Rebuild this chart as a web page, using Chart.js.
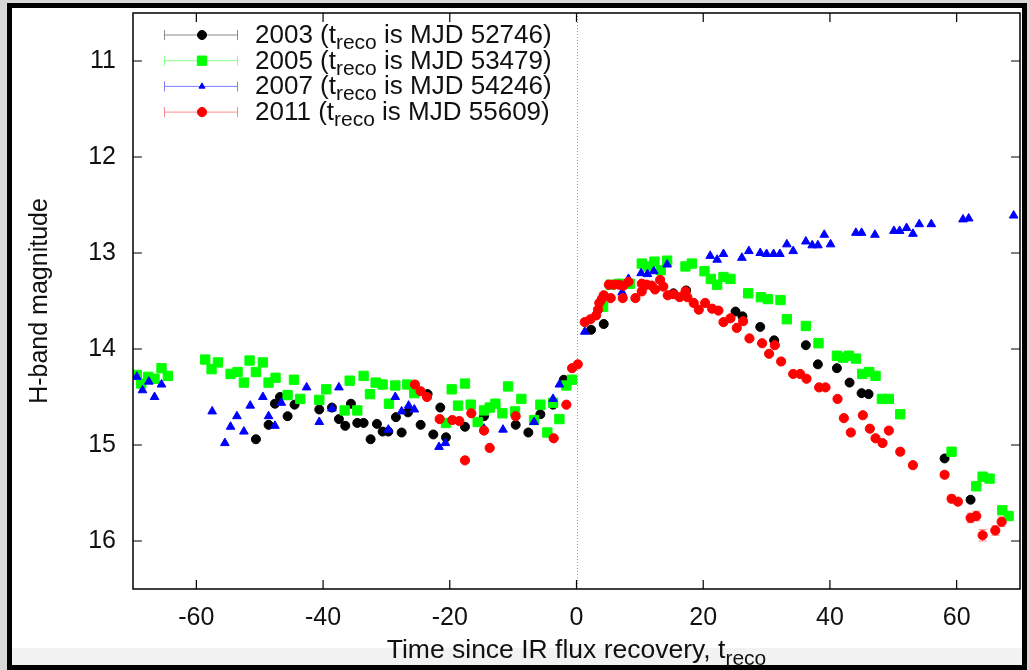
<!DOCTYPE html>
<html>
<head>
<meta charset="utf-8">
<script src="https://cdn.jsdelivr.net/npm/chart.js@4.4.0/dist/chart.umd.min.js"></script>
<style>
    html, body { margin: 0; padding: 0; }
    body { width: 1029px; height: 670px; background: #d8d8d8; position: relative; overflow: hidden; }
    #moldura { position: absolute; left: 7px; top: 3px; width: 1010px; height: 657px; border: 5px solid #000; background: #fff; }
    #faixa { position: absolute; left: 0; right: 0; bottom: 0; height: 17px; background: #f2f2f2; }
    #grafico { position: absolute; left: 0; top: 0; }
</style>
</head>
<body>
<div id="moldura"><div id="faixa"></div></div>
<canvas id="grafico" width="1029" height="670"></canvas>
<script>

//***********************
//Dados
//***********************
const ticks_x = [-60, -40, -20, 0, 20, 40, 60];
const ticks_y = [11, 12, 13, 14, 15, 16];

const anos = ['2003', '2005', '2007', '2011'];
const mjd_treco = ['52746', '53479', '54246', '55609'];

//[tempo desde t_reco, magnitude H]
const pontos_2003 = [
    [-50.6,14.94],[-48.6,14.79],[-47.6,14.57],[-46.8,14.50],[-45.6,14.70],[-44.5,14.58],
    [-40.6,14.63],[-38.6,14.61],[-37.5,14.73],[-36.5,14.80],[-35.6,14.57],[-34.6,14.77],
    [-33.6,14.77],[-32.5,14.94],[-31.5,14.78],[-30.6,14.86],[-29.7,14.86],[-28.5,14.71],
    [-27.6,14.87],[-26.6,14.66],[-24.6,14.79],[-23.5,14.47],[-22.6,14.89],[-21.5,14.61],
    [-20.6,14.92],[-17.6,14.81],[-14.6,14.70],[-9.6,14.79],[-7.6,14.87],[-5.7,14.68],
    [-3.7,14.58],[-2.0,14.32],[2.3,13.80],[4.3,13.74],[15.3,13.42],[17.3,13.39],
    [25.1,13.61],[26.2,13.66],[29.0,13.77],[31.2,13.91],[36.2,13.96],[38.1,14.16],
    [41.1,14.20],[43.1,14.35],[45.0,14.46],[46.1,14.47],[58.1,15.14],[62.2,15.57]
];

const pontos_2005 = [
    [-69.4,14.27],[-68.7,14.36],[-67.6,14.29],[-66.6,14.31],[-65.5,14.20],[-64.5,14.28],
    [-58.6,14.11],[-57.6,14.21],[-56.6,14.14],[-54.6,14.26],[-53.5,14.24],[-52.5,14.35],
    [-51.6,14.12],[-50.6,14.24],[-49.5,14.14],[-48.6,14.35],[-47.5,14.30],[-45.6,14.48],
    [-44.6,14.32],[-43.6,14.52],[-40.6,14.53],[-39.5,14.42],[-36.6,14.64],[-35.8,14.33],
    [-34.6,14.64],[-33.6,14.28],[-32.6,14.47],[-31.7,14.35],[-30.6,14.37],[-29.6,14.57],
    [-28.6,14.38],[-26.7,14.37],[-25.6,14.46],[-20.6,14.77],[-19.7,14.42],[-18.7,14.59],
    [-17.6,14.36],[-16.7,14.58],[-15.6,14.76],[-14.6,14.64],[-13.7,14.61],[-12.8,14.57],
    [-11.7,14.67],[-10.8,14.39],[-9.7,14.65],[-8.7,14.52],[-6.7,14.74],[-5.7,14.58],
    [-4.6,14.87],[-3.7,14.56],[-2.7,14.73],[-1.6,14.38],[-0.7,14.32],[4.2,13.56],
    [5.4,13.33],[6.8,13.32],[8.4,13.32],[10.3,13.11],[11.3,13.14],[12.3,13.09],
    [13.3,13.18],[14.3,13.08],[17.2,13.14],[18.2,13.11],[20.2,13.19],[21.2,13.27],
    [22.2,13.33],[23.2,13.25],[24.3,13.27],[27.1,13.42],[29.1,13.46],[30.2,13.48],
    [32.2,13.49],[33.2,13.69],[36.2,13.76],[38.2,13.94],[41.1,14.07],[42.1,14.09],
    [43.0,14.07],[44.1,14.10],[45.1,14.26],[46.2,14.24],[47.2,14.28],[48.2,14.52],
    [49.3,14.52],[51.1,14.68],[59.2,15.07],[63.1,15.43],[64.1,15.33],[65.2,15.35],
    [67.2,15.68],[68.2,15.74]
];

const pontos_2007 = [
    [-69.4,14.29],[-68.5,14.43],[-67.5,14.34],[-66.6,14.50],[-65.5,14.37],[-57.5,14.65],
    [-55.5,14.98],[-54.6,14.81],[-53.6,14.70],[-52.5,14.86],[-51.5,14.59],[-49.5,14.50],
    [-48.6,14.70],[-47.6,14.80],[-46.6,14.56],[-42.6,14.40],[-40.6,14.76],[-38.6,14.62],
    [-37.5,14.40],[-29.7,14.84],[-28.6,14.50],[-27.6,14.65],[-26.5,14.59],[-25.6,14.63],
    [-21.7,15.02],[-20.7,14.98],[-14.6,14.83],[-11.6,14.84],[-6.7,14.76],[-3.7,14.52],
    [-2.7,14.37],[1.3,13.82],[7.2,13.41],[8.2,13.27],[10.2,13.21],[11.2,13.22],
    [12.2,13.19],[14.3,13.12],[21.1,13.03],[22.2,13.07],[23.2,13.01],[26.1,13.05],
    [27.2,12.98],[29.0,13.00],[30.0,13.01],[31.1,13.01],[32.1,13.01],[33.2,12.91],
    [34.2,12.98],[36.2,12.88],[37.2,12.92],[38.1,12.92],[39.1,12.81],[40.1,12.91],
    [44.1,12.79],[45.0,12.79],[47.1,12.81],[50.1,12.77],[51.0,12.77],[52.1,12.74],
    [53.1,12.80],[54.1,12.70],[56.0,12.70],[61.0,12.65],[61.9,12.64],[69.0,12.61]
];

//[tempo, magnitude, erro]
const pontos_2011 = [
    [-25.5,14.37,0.02],[-24.6,14.44,0.02],[-23.6,14.50,0.02],[-21.6,14.73,0.02],[-19.6,14.74,0.02],
    [-18.5,14.75,0.02],[-17.6,15.16,0.02],[-16.6,14.67,0.02],[-14.6,14.85,0.02],[-13.7,15.03,0.02],
    [-9.6,14.70,0.02],[-3.6,14.93,0.02],[-1.6,14.58,0.02],[-0.7,14.20,0.02],[0.2,14.16,0.02],
    [1.3,13.72,0.02],[2.2,13.69,0.02],[3.1,13.65,0.02],[3.4,13.59,0.02],[3.6,13.52,0.02],
    [4.0,13.48,0.02],[4.3,13.44,0.02],[5.1,13.33,0.02],[5.4,13.47,0.02],[5.9,13.33,0.02],
    [6.7,13.33,0.02],[7.4,13.34,0.02],[7.3,13.47,0.02],[8.2,13.30,0.02],[9.3,13.47,0.02],
    [10.3,13.32,0.02],[10.3,13.40,0.02],[11.1,13.33,0.02],[11.9,13.34,0.02],[12.4,13.38,0.02],
    [13.2,13.28,0.02],[13.7,13.35,0.02],[14.4,13.44,0.02],[15.3,13.43,0.02],[16.3,13.46,0.02],
    [17.2,13.40,0.02],[17.5,13.46,0.02],[18.5,13.52,0.02],[19.3,13.59,0.02],[20.3,13.52,0.02],
    [21.4,13.58,0.02],[22.4,13.60,0.02],[23.2,13.72,0.02],[24.3,13.68,0.02],[25.3,13.78,0.02],
    [26.3,13.71,0.02],[27.3,13.89,0.02],[29.3,13.94,0.02],[30.4,14.05,0.02],[31.3,13.96,0.02],
    [32.3,14.13,0.02],[34.2,14.26,0.02],[35.3,14.26,0.02],[36.3,14.31,0.02],[38.3,14.40,0.02],
    [39.3,14.40,0.02],[41.2,14.52,0.02],[42.2,14.72,0.02],[43.3,14.87,0.02],[45.2,14.69,0.02],
    [46.3,14.83,0.02],[47.2,14.93,0.02],[48.3,14.98,0.02],[49.3,14.85,0.02],[51.1,15.07,0.03],
    [53.1,15.21,0.03],[58.1,15.31,0.03],[59.2,15.56,0.04],[60.2,15.59,0.03],[62.2,15.76,0.05],
    [63.1,15.74,0.05],[64.1,15.94,0.06],[66.1,15.89,0.05],[67.1,15.80,0.05]
];

const series = [pontos_2003, pontos_2005, pontos_2007, pontos_2011];


//***********************
//Estilos
//***********************
const fonte = '"Liberation Sans", Arial, Helvetica, sans-serif';
const cores = ['#000000', '#00ff00', '#0000ff', '#ff0000'];
const cores_barra = ['#8a8a8a', '#8cff8c', '#7f7fff', '#ff8a8a'];
const formas = ['circle', 'rect', 'triangle', 'circle'];
const raios = [4.5, 6.6, 5, 4.6];


//Desenha barras de erro, linha do zero, moldura, legenda e titulo do eixo x
const plugin_moldura = {

    id: 'moldura',

    beforeDatasetsDraw(chart) {
        const {ctx, chartArea: area, scales: {x}} = chart;
        const x0 = Math.round(x.getPixelForValue(0)) + 0.5;
        ctx.save();
        ctx.strokeStyle = '#9a9a9a';
        ctx.lineWidth = 1;
        ctx.setLineDash([1, 2]);
        ctx.beginPath();
        ctx.moveTo(x0, area.top);
        ctx.lineTo(x0, area.bottom);
        ctx.stroke();
        ctx.restore();
    },

    beforeDatasetDraw(chart, args) {
        const {ctx, scales: {x, y}} = chart;
        const dados = series[args.index];
        ctx.save();
        ctx.strokeStyle = cores_barra[args.index];
        ctx.lineWidth = 1;
        dados.forEach(p => {
            if (!p[2]) return;
            const px = x.getPixelForValue(p[0]);
            const y1 = y.getPixelForValue(p[1] - p[2]);
            const y2 = y.getPixelForValue(p[1] + p[2]);
            ctx.beginPath();
            ctx.moveTo(px, y1); ctx.lineTo(px, y2);
            ctx.moveTo(px - 4, y1); ctx.lineTo(px + 4, y1);
            ctx.moveTo(px - 4, y2); ctx.lineTo(px + 4, y2);
            ctx.stroke();
        });
        ctx.restore();
    },

    afterDraw(chart) {
        const {ctx, chartArea: area, scales: {x, y}} = chart;
        ctx.save();

        //moldura e ticks para dentro
        ctx.strokeStyle = '#000';
        ctx.lineWidth = 1.5;
        ctx.strokeRect(area.left, area.top, area.right - area.left, area.bottom - area.top);
        ctx.lineWidth = 1.2;
        ctx.beginPath();
        ticks_x.forEach(v => {
            const px = x.getPixelForValue(v);
            ctx.moveTo(px, area.bottom); ctx.lineTo(px, area.bottom - 9);
            ctx.moveTo(px, area.top); ctx.lineTo(px, area.top + 9);
        });
        ticks_y.forEach(v => {
            const py = y.getPixelForValue(v);
            ctx.moveTo(area.left, py); ctx.lineTo(area.left + 9, py);
            ctx.moveTo(area.right, py); ctx.lineTo(area.right - 9, py);
        });
        ctx.stroke();

        //legenda
        anos.forEach((ano, i) => {
            const cy = 35 + i * 25.7;
            ctx.strokeStyle = cores_barra[i];
            ctx.lineWidth = 1;
            ctx.beginPath();
            ctx.moveTo(164, cy); ctx.lineTo(238, cy);
            ctx.moveTo(164.5, cy - 5); ctx.lineTo(164.5, cy + 5);
            ctx.moveTo(237.5, cy - 5); ctx.lineTo(237.5, cy + 5);
            ctx.stroke();

            ctx.fillStyle = cores[i];
            ctx.strokeStyle = cores[i];
            Chart.helpers.drawPoint(ctx, {pointStyle: formas[i], radius: i == 2 ? 3.5 : raios[i], borderWidth: 1, rotation: 0}, 202, cy);

            ctx.fillStyle = '#111';
            ctx.textAlign = 'left';
            ctx.textBaseline = 'alphabetic';
            let tx = 255;
            ctx.font = '26px ' + fonte;
            const parte1 = ano + ' (t';
            ctx.fillText(parte1, tx, cy + 8);
            tx += ctx.measureText(parte1).width;
            ctx.font = '21px ' + fonte;
            ctx.fillText('reco', tx, cy + 14);
            tx += ctx.measureText('reco').width;
            ctx.font = '26px ' + fonte;
            ctx.fillText(' is MJD ' + mjd_treco[i] + ')', tx, cy + 8);
        });

        //titulo do eixo x com subscrito
        const t1 = 'Time since IR flux recovery, t';
        const t2 = 'reco';
        ctx.font = '26.5px ' + fonte;
        const w1 = ctx.measureText(t1).width;
        ctx.font = '21px ' + fonte;
        const w2 = ctx.measureText(t2).width;
        let tx = (area.left + area.right) / 2 - (w1 + w2) / 2;
        ctx.fillStyle = '#111';
        ctx.font = '26.5px ' + fonte;
        ctx.fillText(t1, tx, 658);
        ctx.font = '21px ' + fonte;
        ctx.fillText(t2, tx + w1, 665);

        ctx.restore();
    }
};


const datasets = series.map((dados, i) => ({
    label: anos[i],
    data: dados.map(p => ({x: p[0], y: p[1]})),
    showLine: false,
    pointStyle: formas[i],
    pointRadius: raios[i],
    pointBorderWidth: 1,
    pointBackgroundColor: cores[i],
    pointBorderColor: cores[i],
    order: 4 - i
}));


new Chart(document.getElementById('grafico'), {
    type: 'scatter',
    data: {datasets: datasets},
    options: {
        responsive: false,
        animation: false,
        events: [],
        layout: {padding: {left: 0, right: 9, top: 13, bottom: 0}},
        plugins: {
            legend: {display: false},
            tooltip: {enabled: false}
        },
        scales: {
            x: {
                type: 'linear',
                min: -70,
                max: 70,
                afterBuildTicks: s => { s.ticks = ticks_x.map(v => ({value: v})); },
                afterFit: s => { s.height = 81; s.paddingLeft = 0; s.paddingRight = 0; },
                grid: {display: false, drawTicks: false},
                border: {display: false},
                ticks: {
                    autoSkip: false,
                    maxRotation: 0,
                    padding: 14,
                    color: '#111',
                    font: {size: 25, family: fonte}
                }
            },
            y: {
                type: 'linear',
                reverse: true,
                min: 10.5,
                max: 16.5,
                afterBuildTicks: s => { s.ticks = ticks_y.map(v => ({value: v})); },
                afterFit: s => { s.width = 133; s.paddingTop = 0; s.paddingBottom = 0; },
                grid: {display: false, drawTicks: false},
                border: {display: false},
                ticks: {
                    autoSkip: false,
                    padding: 17,
                    color: '#111',
                    font: {size: 25, family: fonte}
                },
                title: {
                    display: true,
                    text: 'H-band magnitude',
                    color: '#111',
                    font: {size: 25, family: fonte},
                    padding: {top: 25, bottom: 0}
                }
            }
        }
    },
    plugins: [plugin_moldura]
});

</script>
</body>
</html>
